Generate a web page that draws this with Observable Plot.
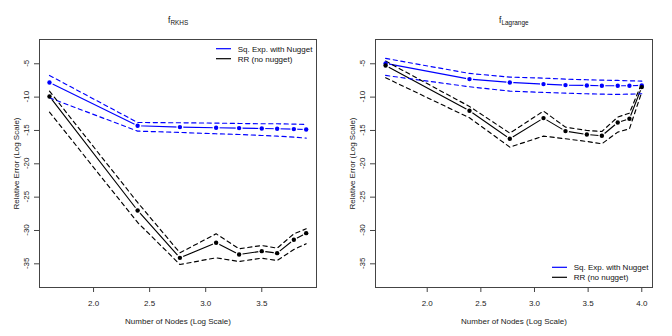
<!DOCTYPE html>
<html><head><meta charset="utf-8">
<script src="https://cdn.jsdelivr.net/npm/d3@7"></script>
<script src="https://cdn.jsdelivr.net/npm/@observablehq/plot@0.6"></script>
<style>
body{margin:0;background:#fff}
#c{display:flex;width:672px;height:336px}
</style>
</head><body><div id="c"></div>
<script>
// ---- data ----
const seriesNames = ["Sq. Exp. with Nugget", "RR (no nugget)"];
const seriesColors = ["#0000ff", "#000000"];
const yTicks = [-35, -30, -25, -20, -15, -10, -5];
const xTicksL = [2.0, 2.5, 3.0, 3.5];
const xTicksR = [2.0, 2.5, 3.0, 3.5, 4.0];

// Left panel: f_RKHS
const xL = [1.607, 2.393, 2.77, 3.093, 3.298, 3.5, 3.637, 3.786, 3.896];
const sqMeanL = [-7.8, -14.3, -14.5, -14.6, -14.65, -14.7, -14.75, -14.8, -14.85];
const sqUpL   = [-6.75, -13.8, -13.85, -13.9, -13.95, -14.0, -14.0, -14.05, -14.1];
const sqLowL  = [-10.1, -15.1, -15.3, -15.5, -15.6, -15.75, -15.85, -16.0, -16.15];
const rrMeanL = [-9.9, -27.0, -34.1, -31.85, -33.6, -33.1, -33.4, -31.4, -30.4];
const rrUpL   = [-9.1, -25.8, -33.35, -30.5, -32.75, -32.25, -32.65, -30.5, -29.75];
const rrLowL  = [-12.25, -28.8, -35.1, -34.1, -34.65, -34.15, -34.5, -32.85, -32.0];

// Right panel: f_Lagrange
const xR = [1.612, 2.394, 2.77, 3.084, 3.289, 3.488, 3.628, 3.776, 3.885, 4.0];
const sqMeanR = [-4.95, -7.3, -7.8, -8.05, -8.2, -8.25, -8.3, -8.3, -8.3, -8.25];
const sqUpR   = [-4.2, -6.45, -7.0, -7.15, -7.3, -7.4, -7.45, -7.5, -7.55, -7.6];
const sqLowR  = [-6.75, -8.45, -9.1, -9.3, -9.4, -9.5, -9.55, -9.6, -9.55, -9.5];
const rrMeanR = [-5.25, -12.05, -16.25, -13.15, -15.1, -15.6, -15.8, -13.8, -13.25, -8.5];
const rrUpR   = [-4.6, -11.4, -15.4, -12.1, -14.5, -15.0, -15.15, -13.0, -12.4, -7.9];
const rrLowR  = [-7.1, -13.1, -17.5, -15.85, -16.25, -16.65, -17.0, -15.25, -14.75, -9.25];

const FONT = "Liberation Sans, Arial, Helvetica, sans-serif";

function rows(x, sets) {
  const out = [];
  sets.forEach(([series, kind, ys]) => ys.forEach((y, i) => out.push({x: x[i], y, series, kind, key: series + kind})));
  return out;
}

function panel(opts) {
  const {x, sq, rr, title, sub, titleDx, subDx, xDomain, xTicks, legendY} = opts;
  const data = rows(x, [
    [0, "mean", sq[0]], [0, "up", sq[1]], [0, "low", sq[2]],
    [1, "mean", rr[0]], [1, "up", rr[1]], [1, "low", rr[2]]
  ]);
  const means = data.filter(d => d.kind === "mean");
  const bands = data.filter(d => d.kind !== "mean");
  const col = d => seriesColors[d.series];
  const svg = Plot.plot({
    width: 336, height: 336,
    marginLeft: 39, marginRight: 20, marginTop: 39, marginBottom: 49,
    style: {fontFamily: FONT, fontSize: "8px", background: "#fff", overflow: "visible"},
    x: {domain: xDomain, label: null},
    y: {domain: [-38.55, -1.36], label: null},
    marks: [
      Plot.frame({stroke: "#444", strokeWidth: 1}),
      Plot.axisX(xTicks, {tickSize: 5, tickPadding: 8, tickFormat: d3.format(".1f"), fontSize: 8, stroke: "#444", fill: "#222", label: null}),
      Plot.axisY(yTicks, {tickSize: 5, tickFormat: () => "", stroke: "#444", label: null}),
      Plot.text(["Relative Error (Log Scale)"], {text: d => d, frameAnchor: "left", dx: -20.5, rotate: -90, textAnchor: "middle", lineAnchor: "bottom", fontSize: 8, fill: "#222"}),
      Plot.text(["Number of Nodes (Log Scale)"], {text: d => d, frameAnchor: "bottom", dy: 36, textAnchor: "middle", lineAnchor: "bottom", fontSize: 8, fill: "#222"}),
      Plot.text([title], {text: d => d, frameAnchor: "top", dx: titleDx, dy: -16.5, textAnchor: "start", lineAnchor: "bottom", fontSize: 8.4, fill: "#111"}),
      Plot.text([sub], {text: d => d, frameAnchor: "top", dx: subDx, dy: -15, textAnchor: "start", lineAnchor: "bottom", fontSize: 6.4, fill: "#111"}),
      Plot.line(means, {x: "x", y: "y", z: "key", stroke: col, strokeWidth: 1.15}),
      Plot.dot(means, {x: "x", y: "y", r: 3.5, fill: "#fff", stroke: "none"}),
      Plot.line(bands, {x: "x", y: "y", z: "key", stroke: col, strokeWidth: 1.15, strokeDasharray: "4.2,3.5"}),
      Plot.dot(means, {x: "x", y: "y", r: 2.2, fill: col, stroke: "none"})
    ]
  });
  const ys = svg.scale("y");
  // rotated y tick labels (R style), placed with the plot's own y scale
  const gt = d3.select(svg).append("g").attr("font-family", FONT).attr("font-size", 8)
    .attr("text-anchor", "middle").attr("fill", "#222");
  yTicks.forEach(v => {
    gt.append("text").attr("transform", `translate(28.5,${ys.apply(v)}) rotate(-90)`).text(String(v));
  });
  // legend (no box), inside the plot region
  const g = d3.select(svg).append("g").attr("font-family", FONT).attr("font-size", 8).attr("text-anchor", "start");
  seriesNames.forEach((name, i) => {
    const y = legendY + i * 10;
    g.append("line").attr("x1", 216).attr("x2", 231).attr("y1", y).attr("y2", y)
      .attr("stroke", seriesColors[i]).attr("stroke-width", 1.2);
    g.append("text").attr("x", 237.7).attr("y", y + 3).attr("fill", "#111").text(name);
  });
  return svg;
}

const c = document.getElementById("c");
c.appendChild(panel({
  x: xL, sq: [sqMeanL, sqUpL, sqLowL], rr: [rrMeanL, rrUpL, rrLowL],
  title: "f", sub: "RKHS", titleDx: -10, subDx: -7.6,
  xDomain: [1.518, 3.988], xTicks: xTicksL, legendY: 48.7
}));
c.appendChild(panel({
  x: xR, sq: [sqMeanR, sqUpR, sqLowR], rr: [rrMeanR, rrUpR, rrLowR],
  title: "f", sub: "Lagrange", titleDx: -15, subDx: -12.5,
  xDomain: [1.518, 4.1], xTicks: xTicksR, legendY: 267.3
}));
</script></body></html>
